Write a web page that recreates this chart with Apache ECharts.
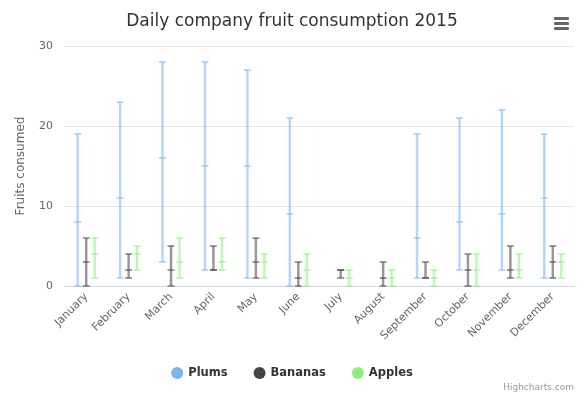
<!DOCTYPE html>
<html>
<head>
<meta charset="utf-8">
<script src="https://cdn.jsdelivr.net/npm/echarts@6/dist/echarts.min.js"></script>
<style>
  html, body { margin: 0; padding: 0; background: #fff; }
  #chart { width: 584px; height: 400px; }
</style>
</head>
<body>
<div id="chart"></div>
<script>
const categories = ['January', 'February', 'March', 'April', 'May', 'June',
  'July', 'August', 'September', 'October', 'November', 'December']

// [low, median, high] per month, null = no data
const plums = [[0, 8, 19], [1, 11, 23], [3, 16, 28], [2, 15, 28], [1, 15, 27], [0, 9, 21],
  null, null, [1, 6, 19], [2, 8, 21], [2, 9, 22], [1, 11, 19]]
const bananas = [[0, 3, 6], [1, 2, 4], [0, 2, 5], [2, 2, 5], [1, 3, 6], [0, 1, 3],
  [1, 2, 2], [0, 1, 3], [1, 1, 3], [0, 2, 4], [1, 2, 5], [1, 3, 5]]
const apples = [[1, 4, 6], [2, 4, 5], [1, 3, 6], [2, 3, 6], [1, 3, 4], [0, 2, 4],
  [0, 1, 2], [0, 1, 2], [0, 1, 2], [0, 2, 4], [1, 2, 4], [1, 3, 4]]

const yTicks = { min: 0, max: 30, interval: 10 }

const fruitSeries = [
  { name: 'Plums', color: '#7cb5ec', values: plums, offset: -8.5 },
  { name: 'Bananas', color: '#434348', values: bananas, offset: 0 },
  { name: 'Apples', color: '#90ed7d', values: apples, offset: 8.5 }
]

function toData(values) {
  let out = []
  values.forEach((v, i) => {
    if (v) out.push([i, v[0], v[1], v[2]])
  })
  return out
}

function makeRender(color, offset) {
  return function (params, api) {
    let idx = api.value(0)
    let x = api.coord([idx, 0])[0] + offset
    let lo = api.coord([idx, api.value(1)])[1]
    let med = api.coord([idx, api.value(2)])[1]
    let hi = api.coord([idx, api.value(3)])[1]
    let half = 3.5
    let cap = y => ({
      type: 'line',
      shape: { x1: x - half, y1: y, x2: x + half, y2: y },
      style: { stroke: color, lineWidth: 1 }
    })
    return {
      type: 'group',
      children: [
        {
          type: 'line',
          shape: { x1: x, y1: lo, x2: x, y2: hi },
          style: { stroke: color, lineWidth: 2.5, opacity: 0.55 }
        },
        cap(lo), cap(med), cap(hi)
      ]
    }
  }
}

const chart = echarts.init(document.getElementById('chart'))
chart.setOption({
  animation: false,
  title: {
    text: 'Daily company fruit consumption 2015',
    left: 'center',
    top: 8,
    textStyle: { fontFamily: 'DejaVu Sans', fontSize: 17, fontWeight: 'normal', color: '#333333' }
  },
  legend: {
    bottom: 16,
    left: 'center',
    itemWidth: 12,
    itemHeight: 12,
    itemGap: 26,
    icon: 'circle',
    data: fruitSeries.map(s => s.name),
    textStyle: { fontFamily: 'DejaVu Sans', fontSize: 11.5, fontWeight: 'bold', color: '#333333' }
  },
  grid: { left: 65, right: 10, top: 46, bottom: 114 },
  xAxis: {
    type: 'category',
    data: categories,
    boundaryGap: true,
    axisLine: { lineStyle: { color: '#ccd6eb' } },
    axisTick: { length: 9, lineStyle: { color: '#ccd6eb' } },
    axisLabel: {
      rotate: 45,
      interval: 0,
      margin: 9,
      fontFamily: 'DejaVu Sans',
      fontSize: 11,
      color: '#666666'
    }
  },
  yAxis: {
    type: 'value',
    min: yTicks.min,
    max: yTicks.max,
    interval: yTicks.interval,
    name: 'Fruits consumed',
    nameLocation: 'middle',
    nameGap: 38,
    nameTextStyle: { fontFamily: 'DejaVu Sans', fontSize: 12, color: '#666666' },
    axisLine: { show: false },
    axisTick: { show: false },
    axisLabel: { margin: 12, fontFamily: 'DejaVu Sans', fontSize: 11, color: '#666666' },
    splitLine: { lineStyle: { color: '#e6e6e6' } }
  },
  graphic: [
    {
      type: 'group',
      right: 15,
      top: 17,
      children: [
        { type: 'rect', shape: { x: 0, y: 0, width: 15, height: 3, r: 1 }, style: { fill: '#666666' } },
        { type: 'rect', shape: { x: 0, y: 5, width: 15, height: 3, r: 1 }, style: { fill: '#666666' } },
        { type: 'rect', shape: { x: 0, y: 10, width: 15, height: 3, r: 1 }, style: { fill: '#666666' } }
      ]
    },
    {
      type: 'text',
      right: 10,
      bottom: 8,
      style: { text: 'Highcharts.com', fontFamily: 'DejaVu Sans', fontSize: 9, fill: '#999999' }
    }
  ],
  series: fruitSeries.map(s => ({
    name: s.name,
    type: 'custom',
    color: s.color,
    itemStyle: { color: s.color },
    encode: { x: 0, y: [1, 2, 3] },
    data: toData(s.values),
    renderItem: makeRender(s.color, s.offset)
  }))
})
</script>
</body>
</html>
